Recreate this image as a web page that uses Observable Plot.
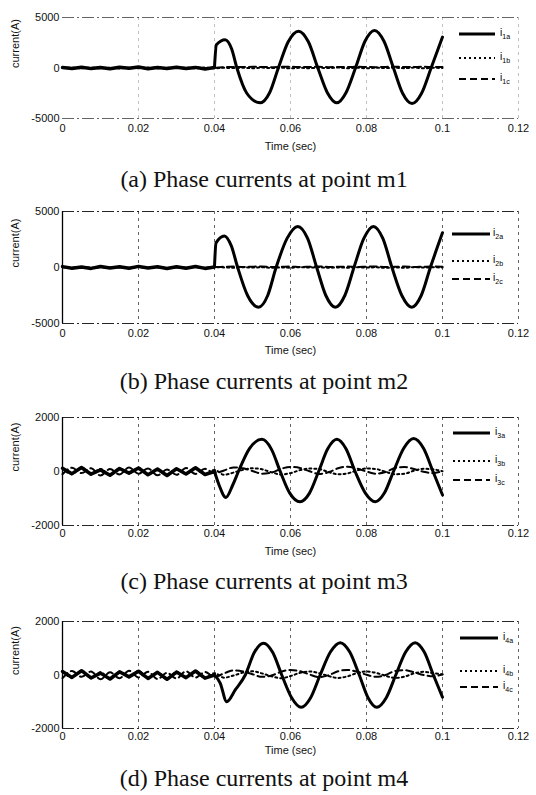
<!DOCTYPE html>
<html><head><meta charset="utf-8">
<script src="https://cdn.jsdelivr.net/npm/d3@7"></script>
<script src="https://cdn.jsdelivr.net/npm/@observablehq/plot@0.6"></script>
<style>
body{margin:0;background:#fff;}
#wrap{position:relative;width:536px;height:795px;overflow:hidden;background:#fff;}
.panel{position:absolute;left:0;}
.cap{position:absolute;left:0;width:528px;text-align:center;font-family:"Liberation Serif","Times New Roman",serif;font-size:24px;line-height:26px;color:#111;white-space:nowrap;}
#leg{position:absolute;left:0;top:0;pointer-events:none;}
</style></head><body><div id="wrap"></div>
<script>
// ---------- axis ticks ----------
const xTicks = [0, 0.02, 0.04, 0.06, 0.08, 0.1, 0.12];
const yTicksBig = [-5000, 0, 5000];
const yTicksSmall = [-2000, 0, 2000];

// ---------- shared time grid (s) ----------
const tGrid = [
  0, 0.0025, 0.005, 0.0075, 0.01, 0.0125, 0.015, 0.0175, 0.02, 0.0225,
  0.025, 0.0275, 0.03, 0.0325, 0.035, 0.0375, 0.04, 0.0425, 0.045, 0.0475,
  0.05, 0.0525, 0.055, 0.0575, 0.06, 0.0625, 0.065, 0.0675, 0.07, 0.0725,
  0.075, 0.0775, 0.08, 0.0825, 0.085, 0.0875, 0.09, 0.0925, 0.095, 0.0975,
  0.1];

// ---------- point m1 ----------
const preA_m1 = [60, -40, 80, -60, 40, -80, 70, -30, 90, -70, 50, -50, 80, -40, 60, -90, 40];
const tA_m1 = [0.0400, 0.0405, 0.0428, 0.0445, 0.0459, 0.0485, 0.0520, 0.0545, 0.0568, 0.0594, 0.0621, 0.0647, 0.0672, 0.0697, 0.0722, 0.0746, 0.0771, 0.0796, 0.0821, 0.0846, 0.0871, 0.0895, 0.0920, 0.0945, 0.0970, 0.1000];
const iA_m1 = [100, 2300, 2800, 1900, 0, -2500, -3450, -2450, 0, 2600, 3650, 2600, 0, -2450, -3450, -2450, 0, 2650, 3720, 2650, 0, -2500, -3520, -2500, 0, 3060];
const iB_m1 = [
  0, 30, -20, 40, -30, 20, -40, 30, -20, 40,
  -30, 20, -10, 30, -20, 40, -30, 20, -10, 30,
  -20, 40, -10, 30, -30, 20, -20, 30, -10, 40,
  -20, 30, -30, 20, -10, 30, -20, 40, -30, 20,
  0];
const iC_m1 = [
  40, -30, 50, -20, 30, -40, 60, -30, 40, -20,
  50, -40, 30, -30, 60, -20, 20, 80, 110, 90,
  120, 100, 80, 110, 130, 90, 100, 120, 80, 110,
  90, 120, 100, 80, 110, 130, 90, 100, 120, 90,
  100];

// ---------- point m2 ----------
const preA_m2 = [80, -60, 50, -80, 90, -40, 60, -70, 100, -50, 70, -90, 60, -60, 90, -80, 50];
const tA_m2 = [0.0400, 0.0404, 0.0426, 0.0444, 0.0461, 0.0487, 0.0516, 0.0540, 0.0562, 0.0591, 0.0619, 0.0645, 0.0669, 0.0693, 0.0718, 0.0743, 0.0767, 0.0793, 0.0818, 0.0843, 0.0867, 0.0893, 0.0919, 0.0944, 0.0968, 0.1000];
const iA_m2 = [100, 2200, 2820, 1950, 0, -2500, -3545, -2500, 0, 2600, 3670, 2600, 0, -2500, -3545, -2500, 0, 2600, 3670, 2600, 0, -2500, -3545, -2500, 0, 3100];
const iB_m2 = [
  30, -20, 40, -30, 20, -40, 30, -20, 40, -30,
  20, -40, 30, -20, 40, -30, 20, 10, -20, 30,
  -10, 20, -30, 10, -20, 30, -10, 20, -30, 10,
  -20, 30, -10, 20, -30, 10, -20, 30, -10, 20,
  0];
const iC_m2 = [
  50, -30, 40, -40, 60, -20, 30, -50, 40, -30,
  60, -40, 30, -20, 50, -30, 40, 60, 80, 40,
  70, 90, 50, 60, 80, 40, 70, 90, 50, 60,
  80, 40, 70, 90, 50, 60, 80, 40, 70, 90,
  60];

// ---------- point m3 ----------
const preA_m3 = [120, -80, 150, -100, 60, -140, 110, -60, 130, -120, 90, -150, 100, -90, 140, -110, 0];
const tA_m3 = [0.0400, 0.0412, 0.0430, 0.0448, 0.0463, 0.0492, 0.0525, 0.0550, 0.0573, 0.0598, 0.0625, 0.0650, 0.0674, 0.0698, 0.0722, 0.0746, 0.0770, 0.0797, 0.0823, 0.0847, 0.0871, 0.0898, 0.0924, 0.0950, 0.0975, 0.1000];
const iA_m3 = [0, -500, -960, -500, 0, 850, 1190, 820, 0, -800, -1120, -800, 0, 840, 1190, 840, 0, -800, -1120, -800, 0, 860, 1220, 860, 0, -870];
const iB_m3 = [
  120, -100, 150, -80, 90, -140, 110, -60, 130, -120,
  80, -150, 100, -90, 140, -110, 60, -120, -40, 60,
  120, 80, -30, -110, -60, 50, 110, 90, -20, -100,
  -70, 40, 110, 90, -10, -100, -80, 30, 100, 80,
  10];
const iC_m3 = [
  -100, 140, -60, 120, -150, 90, -110, 150, -80, 110,
  -140, 70, -120, 130, -90, 100, -60, 40, 150, 120,
  20, -80, -40, 100, 170, 130, 10, -90, -30, 120,
  180, 110, 0, -80, -20, 130, 170, 90, -10, -60,
  20];

// ---------- point m4 ----------
const preA_m4 = [130, -90, 160, -110, 70, -150, 120, -70, 140, -130, 100, -160, 110, -100, 150, -120, 0];
const tA_m4 = [0.0400, 0.0415, 0.0432, 0.0455, 0.0481, 0.0505, 0.0529, 0.0553, 0.0577, 0.0603, 0.0628, 0.0653, 0.0678, 0.0705, 0.0731, 0.0756, 0.0781, 0.0804, 0.0827, 0.0852, 0.0877, 0.0903, 0.0928, 0.0952, 0.0976, 0.1000];
const iA_m4 = [0, -300, -1000, -550, 0, 850, 1190, 850, 0, -850, -1210, -850, 0, 860, 1210, 860, 0, -850, -1210, -850, 0, 860, 1210, 860, 0, -830];
const iB_m4 = [
  140, -90, 160, -120, 100, -150, 120, -70, 150, -110,
  90, -160, 120, -100, 150, -120, 70, -100, -20, 90,
  140, 60, -50, -120, -40, 80, 130, 70, -40, -110,
  -50, 70, 130, 80, -30, -110, -60, 60, 120, 70,
  20];
const iC_m4 = [
  -120, 150, -70, 130, -160, 100, -120, 160, -90, 120,
  -150, 80, -130, 140, -100, 110, -70, 60, 170, 130,
  30, -70, -20, 120, 190, 140, 20, -80, -10, 140,
  190, 120, 10, -70, 0, 150, 180, 100, 0, -50,
  30];

// ---------- texts ----------
const captions = [
  "(a) Phase currents at point m1",
  "(b) Phase currents at point m2",
  "(c) Phase currents at point m3",
  "(d) Phase currents at point m4"];
const legendSubs = [["1a", "1b", "1c"], ["2a", "2b", "2c"], ["3a", "3b", "3c"], ["4a", "4b", "4c"]];
const xLabel = "Time (sec)";
const yLabel = "current(A)";

// ---------- layout (pixels) ----------
const panels = [
  {preA: preA_m1, tA: tA_m1, iA: iA_m1, iB: iB_m1, iC: iC_m1, yMax: 5000, yTicks: yTicksBig,
   top: 9, plotH: 101, tickPad: 6, timeDy: 31, capY: 179, faint: true,
   leg: {x0: 459, x1: 495, ys: [34, 58, 79], lx: 500}},
  {preA: preA_m2, tA: tA_m2, iA: iA_m2, iB: iB_m2, iC: iC_m2, yMax: 5000, yTicks: yTicksBig,
   top: 203, plotH: 112, tickPad: 6, timeDy: 30, capY: 381, faint: false,
   leg: {x0: 452, x1: 490, ys: [234, 261, 279], lx: 493}},
  {preA: preA_m3, tA: tA_m3, iA: iA_m3, iB: iB_m3, iC: iC_m3, yMax: 2000, yTicks: yTicksSmall,
   top: 409, plotH: 108, tickPad: 4, timeDy: 29, capY: 581, faint: false,
   leg: {x0: 453, x1: 490, ys: [433, 461, 480], lx: 495}},
  {preA: preA_m4, tA: tA_m4, iA: iA_m4, iB: iB_m4, iC: iC_m4, yMax: 2000, yTicks: yTicksSmall,
   top: 613, plotH: 107, tickPad: 4, timeDy: 25, capY: 778, faint: false,
   leg: {x0: 460, x1: 498, ys: [638, 671, 687], lx: 503}}
];

const wrap = document.getElementById("wrap");
const MT = 8, MB = 40, ML = 62, MR = 18;

panels.forEach((p, k) => {
  const pre = p.preA.map((v, i) => ({t: tGrid[i], v}));
  const post = p.tA.map((t, i) => ({t, v: p.iA[i]}));
  const phB = tGrid.map((t, i) => ({t, v: p.iB[i]}));
  const phC = tGrid.map((t, i) => ({t, v: p.iC[i]}));
  const gridOp = p.faint ? 0.25 : 0.6;
  const chart = Plot.plot({
    width: 536, height: p.plotH + MT + MB,
    marginTop: MT, marginBottom: MB, marginLeft: ML, marginRight: MR,
    style: {fontFamily: "'Liberation Sans', Arial, sans-serif", fontSize: "11px", color: "#111", background: "transparent", overflow: "visible"},
    x: {domain: [0, 0.12], ticks: xTicks, tickFormat: d => String(d), tickSize: 0, tickPadding: p.tickPad, label: null},
    y: {domain: [-p.yMax, p.yMax], ticks: p.yTicks, tickFormat: d => String(d), tickSize: 0, tickPadding: 3, label: null},
    marks: [
      Plot.ruleX(xTicks.slice(1), {stroke: "#000", strokeOpacity: gridOp, strokeDasharray: "3,4", strokeWidth: 1}),
      Plot.ruleY([-p.yMax, p.yMax], {stroke: "#000", strokeOpacity: p.faint ? 0.6 : 0.85, strokeDasharray: "12,3,2,3", strokeWidth: 1.2}),
      p.faint ? null : Plot.ruleX([0], {stroke: "#000", strokeWidth: 1.3}),
      Plot.line(phB, {x: "t", y: "v", stroke: "#000", strokeWidth: 2, strokeDasharray: "2,3", curve: "monotone-x"}),
      Plot.line(phC, {x: "t", y: "v", stroke: "#000", strokeWidth: 2, strokeDasharray: "7,4", curve: "monotone-x"}),
      Plot.line(pre, {x: "t", y: "v", stroke: "#000", strokeWidth: 3.5}),
      Plot.line(post, {x: "t", y: "v", stroke: "#000", strokeWidth: 3, curve: "monotone-x"}),
      Plot.text([yLabel], {text: d => d, frameAnchor: "left", rotate: -90, dx: -47, fontSize: 11, fill: "#111"}),
      Plot.text([xLabel], {text: d => d, frameAnchor: "bottom", dy: p.timeDy, fontSize: 11, fill: "#111"})
    ]
  });
  const div = document.createElement("div");
  div.className = "panel";
  div.style.top = p.top + "px";
  div.appendChild(chart);
  wrap.appendChild(div);

  const cap = document.createElement("div");
  cap.className = "cap";
  cap.style.top = (p.capY - 13) + "px";
  cap.textContent = captions[k];
  wrap.appendChild(cap);
});

// ---------- legends ----------
const legSvg = d3.select(wrap).append("svg").attr("id", "leg").attr("width", 536).attr("height", 795);
const dashes = [null, "2,3", "7,4"];
const widths = [3, 2, 2];
panels.forEach((p, k) => {
  const L = p.leg;
  legendSubs[k].forEach((s, j) => {
    const y = L.ys[j];
    const ln = legSvg.append("line").attr("x1", L.x0).attr("x2", L.x1).attr("y1", y).attr("y2", y)
      .attr("stroke", "#000").attr("stroke-width", widths[j]);
    if (dashes[j]) ln.attr("stroke-dasharray", dashes[j]);
    const tx = legSvg.append("text").attr("x", L.lx).attr("y", y + 2)
      .attr("font-family", "'Liberation Sans', Arial, sans-serif").attr("fill", "#000").style("fill", "#000");
    tx.append("tspan").attr("font-size", 10).attr("fill", "#000").text("i");
    tx.append("tspan").attr("font-size", 7).attr("dy", 3).attr("fill", "#000").text(s);
  });
});
</script>
</body></html>
